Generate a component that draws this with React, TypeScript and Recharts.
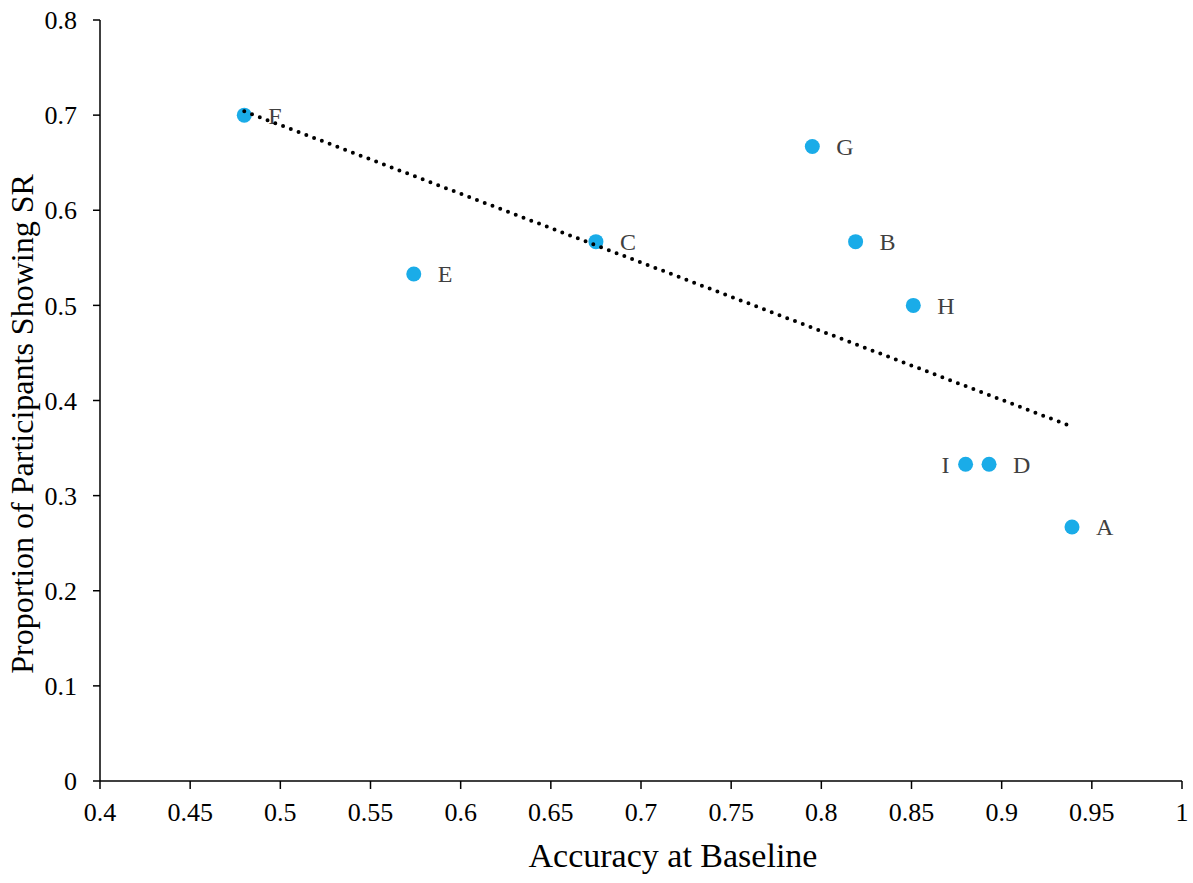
import React from 'react';
import { ScatterChart, Scatter, XAxis, YAxis, Label } from 'recharts';

const pointNames = ['F', 'E', 'C', 'G', 'B', 'H', 'I', 'D', 'A'];
const accuracy = [0.48, 0.574, 0.675, 0.795, 0.819, 0.851, 0.88, 0.893, 0.939];
const proportion = [0.7, 0.533, 0.567, 0.667, 0.567, 0.5, 0.333, 0.333, 0.267];

const trendAccuracy = [0.48, 0.937];
const trendProportion = [0.704, 0.374];

const xTicks = [0.4, 0.45, 0.5, 0.55, 0.6, 0.65, 0.7, 0.75, 0.8, 0.85, 0.9, 0.95, 1];
const yTicks = [0, 0.1, 0.2, 0.3, 0.4, 0.5, 0.6, 0.7, 0.8];

const xTitle = 'Accuracy at Baseline';
const yTitle = 'Proportion of Participants Showing SR';

const points = pointNames.map((name, i) => ({ name, x: accuracy[i], y: proportion[i] }));
const trend = trendAccuracy.map((x, i) => ({ x, y: trendProportion[i] }));

const FONT = '"Liberation Serif", "Times New Roman", serif';
const DOT = '#1AACE8';

const PointShape = (props: any) => {
  const { cx, cy, payload } = props;
  const left = payload.name === 'I';
  return (
    <g>
      <circle cx={cx} cy={cy} r={7.5} fill={DOT} />
      <text
        x={left ? cx - 16 : cx + 24}
        y={cy}
        dy="0.35em"
        textAnchor={left ? 'end' : 'start'}
        fontFamily={FONT}
        fontSize={24}
        fill="#404040"
      >
        {payload.name}
      </text>
    </g>
  );
};

const NoShape = () => <g />;

const fmt = (v: number) => String(v);

export default function App() {
  return (
    <div style={{ position: 'absolute', left: 0, top: 0, background: '#fff' }}>
      <ScatterChart width={1193} height={883} margin={{ top: 20, right: 11, bottom: 0, left: 0 }}>
        <XAxis
          type="number"
          dataKey="x"
          domain={[0.4, 1]}
          ticks={xTicks}
          tickFormatter={fmt}
          height={102}
          stroke="#000"
          strokeWidth={1.5}
          tickSize={8}
          tickMargin={14}
          tick={{ fill: '#000', fontFamily: FONT, fontSize: 26 }}
          interval={0}
          allowDataOverflow
        >
          <Label
            content={() => (
              <text x={673} y={867} textAnchor="middle" fontFamily={FONT} fontSize={34} fill="#000">
                {xTitle}
              </text>
            )}
          />
        </XAxis>
        <YAxis
          type="number"
          dataKey="y"
          domain={[0, 0.8]}
          ticks={yTicks}
          tickFormatter={fmt}
          width={100}
          stroke="#000"
          strokeWidth={1.5}
          tickSize={7}
          tickMargin={16}
          tick={{ fill: '#000', fontFamily: FONT, fontSize: 26 }}
          interval={0}
          allowDataOverflow
        >
          <Label
            content={() => (
              <text
                x={33}
                y={424}
                transform="rotate(-90 33 424)"
                textAnchor="middle"
                fontFamily={FONT}
                fontSize={32}
                fill="#000"
              >
                {yTitle}
              </text>
            )}
          />
        </YAxis>
        <Scatter data={points} shape={PointShape} isAnimationActive={false} />
        <Scatter
          data={trend}
          shape={NoShape}
          line={{ stroke: '#000', strokeWidth: 4, strokeDasharray: '0 8.3', strokeLinecap: 'round' }}
          isAnimationActive={false}
        />
      </ScatterChart>
    </div>
  );
}
